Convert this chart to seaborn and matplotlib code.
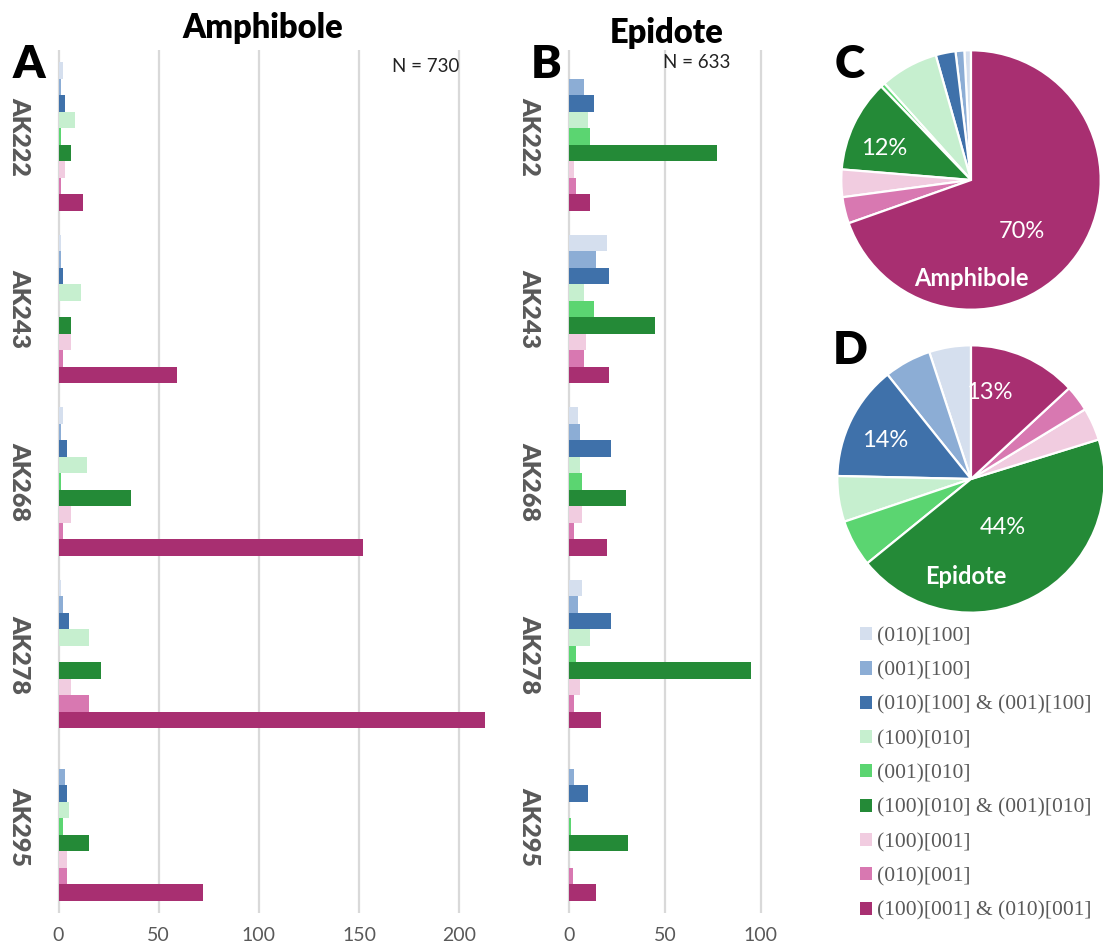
import matplotlib
matplotlib.use("Agg")
import matplotlib.pyplot as plt
import pandas as pd
import seaborn as sns

samples = ["AK222", "AK243", "AK268", "AK278", "AK295"]
systems = ["(010)[100]", "(001)[100]", "(010)[100] & (001)[100]",
           "(100)[010]", "(001)[010]", "(100)[010] & (001)[010]",
           "(100)[001]", "(010)[001]", "(100)[001] & (010)[001]"]
colors = ["#D5DFEE", "#8CADD5", "#3F71AA",
          "#C6EFCF", "#5BD571", "#248A37",
          "#F1CCE0", "#D878B1", "#A82F71"]

# Amphibole: number of grains per slip system, one list per sample
amph_ak222 = [2, 1, 3, 8, 1, 6, 3, 1, 12]
amph_ak243 = [1, 1, 2, 11, 0, 6, 6, 2, 59]
amph_ak268 = [2, 1, 4, 14, 1, 36, 6, 2, 152]
amph_ak278 = [1, 2, 5, 15, 0, 21, 6, 15, 213]
amph_ak295 = [0, 3, 4, 5, 2, 15, 4, 4, 72]

# Epidote: number of grains per slip system, one list per sample
epi_ak222 = [0, 8, 13, 10, 11, 77, 3, 4, 11]
epi_ak243 = [20, 14, 21, 8, 13, 45, 9, 8, 21]
epi_ak268 = [5, 6, 22, 6, 7, 30, 7, 3, 20]
epi_ak278 = [7, 5, 22, 11, 4, 95, 6, 3, 17]
epi_ak295 = [0, 3, 10, 0, 1, 31, 0, 2, 14]

amph_rows = [amph_ak222, amph_ak243, amph_ak268, amph_ak278, amph_ak295]
epi_rows = [epi_ak222, epi_ak243, epi_ak268, epi_ak278, epi_ak295]


def long_table(rows):
    recs = []
    for s, vals in zip(samples, rows):
        for sysname, v in zip(systems, vals):
            recs.append({"sample": s, "system": sysname, "count": v})
    return pd.DataFrame(recs)


df_amph = long_table(amph_rows)
df_epi = long_table(epi_rows)

sns.set_style("white")
plt.rcParams["font.family"] = ["Lato", "DejaVu Sans"]

W, H = 1103, 949
fig = plt.figure(figsize=(W / 100, H / 100), dpi=100)


def fx(px):
    return px / W


def fy(py):
    return 1 - py / H


GRAY = "#595959"
GRID = "#D9D9D9"


def bar_panel(rect, df, xmax, ticks, show_legend):
    ax = fig.add_axes(rect)
    sns.barplot(data=df, x="count", y="sample", hue="system",
                order=samples, hue_order=systems, palette=colors,
                width=0.86, saturation=1, linewidth=0, orient="h",
                legend=show_legend, ax=ax)
    ax.set_xlim(-1, xmax)
    ax.set_ylim(4.5, -0.5)
    ax.set_xticks(ticks)
    ax.set_xticklabels([str(t) for t in ticks])
    ax.set_yticks(range(len(samples)))
    ax.set_yticklabels(samples)
    plt.setp(ax.get_xticklabels(), fontsize=14, color=GRAY)
    plt.setp(ax.get_yticklabels(), fontsize=18, fontweight="heavy",
             color=GRAY, rotation=-90, va="center", ha="right")
    ax.tick_params(axis="y", length=0, pad=19)
    ax.tick_params(axis="x", length=0, pad=10)
    ax.xaxis.grid(True, color=GRID, linewidth=1.6)
    ax.yaxis.grid(False)
    ax.set_axisbelow(True)
    for sp in ax.spines.values():
        sp.set_visible(False)
    ax.set_xlabel("")
    ax.set_ylabel("")
    return ax


# Panel A: amphibole bars, 0..220 over 441 px
axA = bar_panel([fx(56.5), fy(913), fx(443), 863 / H], df_amph, 220,
                [0, 50, 100, 150, 200], True)
handles, labels = axA.get_legend_handles_labels()
axA.get_legend().remove()

# Panel B: epidote bars, 0..101 over 196 px
axB = bar_panel([fx(566.8), fy(913), fx(196), 863 / H], df_epi, 101,
                [0, 50, 100], False)

fig.text(fx(263), fy(28), "Amphibole", ha="center", va="center",
         fontsize=23.5, fontweight="heavy", color="black")
fig.text(fx(667), fy(33), "Epidote", ha="center", va="center",
         fontsize=23.5, fontweight="heavy", color="black")
fig.text(fx(426), fy(66), f"N = {sum(map(sum, amph_rows))}", ha="center",
         va="center", fontsize=13.5, color="#222222")
fig.text(fx(697), fy(63), f"N = {sum(map(sum, epi_rows))}", ha="center",
         va="center", fontsize=13.5, color="#222222")
for letter, (px, py) in {"A": (29, 64), "B": (546, 64),
                         "C": (850, 64), "D": (850, 351)}.items():
    fig.text(fx(px), fy(py), letter, ha="center", va="center",
             fontsize=33, fontweight="heavy", color="black")


def pie_panel(cx, cy, r, rows, pct_pos, name, name_pos):
    totals = [sum(col) for col in zip(*rows)]
    grand = sum(totals)
    ax = fig.add_axes([fx(cx - r), fy(cy + r), fx(2 * r), 2 * r / H])
    ax.pie(totals, colors=colors, startangle=90, counterclock=True,
           wedgeprops=dict(edgecolor="white", linewidth=1.6))
    ax.set_xlim(-1.01, 1.01)
    ax.set_ylim(-1.01, 1.01)
    ax.set_aspect("equal")
    ax.axis("off")
    for idx, (x, y) in pct_pos.items():
        pct = round(100 * totals[idx] / grand)
        ax.text(x, y, f"{pct}%", ha="center", va="center",
                fontsize=17, color="white")
    ax.text(name_pos[0], name_pos[1], name, ha="center", va="center",
            fontsize=17, fontweight="bold", color="white")
    return ax


pie_panel(971, 180, 131, amph_rows,
          {5: (-0.67, 0.24), 8: (0.39, -0.40)}, "Amphibole", (0.0, -0.76))
pie_panel(971, 479, 135, epi_rows,
          {2: (-0.64, 0.29), 8: (0.14, 0.65), 5: (0.24, -0.36)},
          "Epidote", (-0.04, -0.73))

fig.legend(handles, labels, loc="upper left",
           bbox_to_anchor=(fx(860), fy(627)), frameon=False,
           borderaxespad=0, borderpad=0, handlelength=0.56,
           handleheight=0.56, handletextpad=0.25, labelspacing=0.7,
           prop={"family": "Liberation Serif", "size": 15.5},
           labelcolor=GRAY)

fig.savefig("out.png", dpi=100)
